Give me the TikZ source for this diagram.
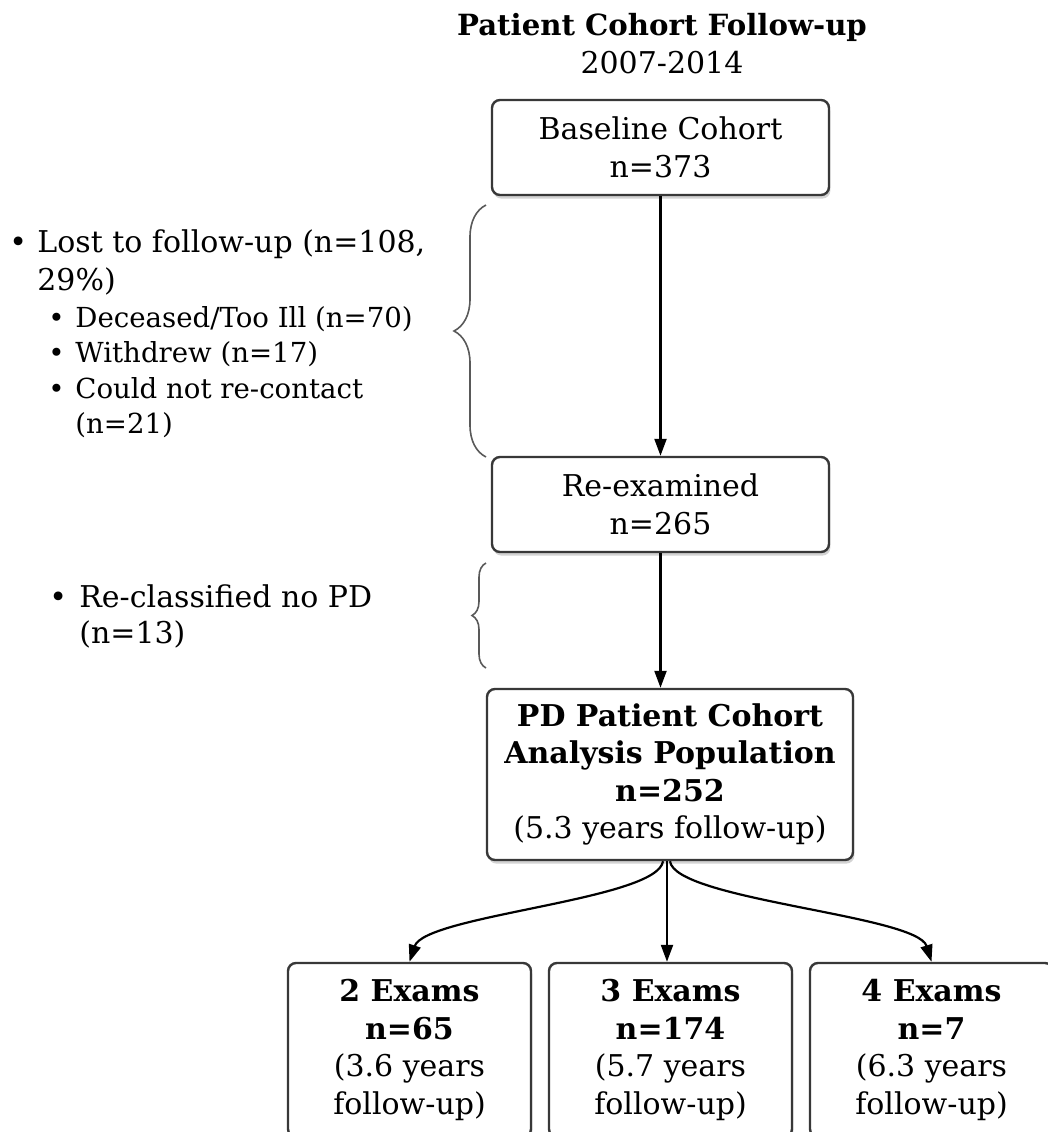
\documentclass[tikz,border=0pt]{standalone}
\usepackage{fontspec}
\setmainfont{DejaVu Serif}
\usetikzlibrary{shadows,arrows.meta,decorations.pathreplacing}

\begin{document}
\begin{tikzpicture}[x=0.5pt,y=-0.5pt,
  box/.style={draw=black!78, line width=1.2pt, rounded corners=4pt, fill=white,
    drop shadow={shadow xshift=0.7pt, shadow yshift=-1.8pt, opacity=0.35},
    align=center, inner sep=0pt, font=\fontsize{15}{18.75}\selectfont},
  flow/.style={line width=1.1pt, -{Triangle[length=8.5pt,width=6pt]}},
  bracket/.style={draw=black!65, line width=0.8pt, decorate},
  item/.style={anchor=base west, inner sep=0pt, font=\fontsize{15}{18}\selectfont},
  subitem/.style={anchor=base west, inner sep=0pt, font=\fontsize{13.8}{18}\selectfont}]

\useasboundingbox (0,0) rectangle (1048,1132);
\clip (0,0) rectangle (1048,1132);

% Title
\node[anchor=base, inner sep=0pt, font=\fontsize{14.6}{18}\selectfont\bfseries] (title) at (662,35) {Patient Cohort Follow-up};
\node[anchor=base, inner sep=0pt, font=\fontsize{15}{18}\selectfont] (years) at (662,73) {2007-2014};

% Boxes
\node[box, minimum width=168.5pt, minimum height=47.5pt] (baseline) at (660.5,147.5) {Baseline Cohort\\n=373};
\node[box, minimum width=168.5pt, minimum height=47.5pt] (reexam) at (660.5,504.5) {Re-examined\\n=265};
\node[box, minimum width=183pt, minimum height=85.5pt] (pd) at (670,774.5)
  {\textbf{PD Patient Cohort}\\\textbf{Analysis Population}\\\textbf{n=252}\\(5.3 years follow-up)};
\node[box, minimum width=121.5pt, minimum height=87pt] (exam2) at (409.5,1050) {\textbf{2 Exams}\\\textbf{n=65}\\(3.6 years\\follow-up)};
\node[box, minimum width=121.5pt, minimum height=87pt] (exam3) at (670.5,1050) {\textbf{3 Exams}\\\textbf{n=174}\\(5.7 years\\follow-up)};
\node[box, minimum width=121.5pt, minimum height=87pt] (exam4) at (931.5,1050) {\textbf{4 Exams}\\\textbf{n=7}\\(6.3 years\\follow-up)};

% Arrows
\draw[flow] (baseline.south) -- (reexam.north);
\draw[flow] (reexam.south) -- (reexam.south |- pd.north);
\draw[flow] ([xshift=-3.5pt]pd.south) .. controls (658,900) and (425,915) .. (exam2.north);
\draw[flow] ([xshift=-1.5pt]pd.south) -- ([xshift=-1.5pt]pd.south |- exam3.north);
\draw[flow] (pd.south) .. controls (675,900) and (917,915) .. (exam4.north);

% Braces
\draw[bracket, decoration={brace, amplitude=16pt}] (486,457) -- (486,205);
\draw[bracket, decoration={brace, amplitude=7pt}] (486,668) -- (486,563);

% Lost to follow-up
\node[item] (dot1) at (9,252) {•};
\node[item] (lost1) at (37,252) {Lost to follow-up (n=108,};
\node[item] (lost2) at (37,290) {29\%)};
\foreach \txt/\yy [count=\i] in {{Deceased/Too Ill (n=70)}/327, {Withdrew (n=17)}/362, {Could not re-contact}/398} {
  \node[subitem] (subdot\i) at (48,\yy) {•};
  \node[subitem] (sub\i) at (75,\yy) {\txt};
}
\node[subitem] (sub4) at (75,433) {(n=21)};

% Re-classified
\node[item] (dot2) at (49,607) {•};
\node[item] (recl1) at (79,607) {Re-classified no PD};
\node[item] (recl2) at (79,643) {(n=13)};
\end{tikzpicture}
\end{document}
